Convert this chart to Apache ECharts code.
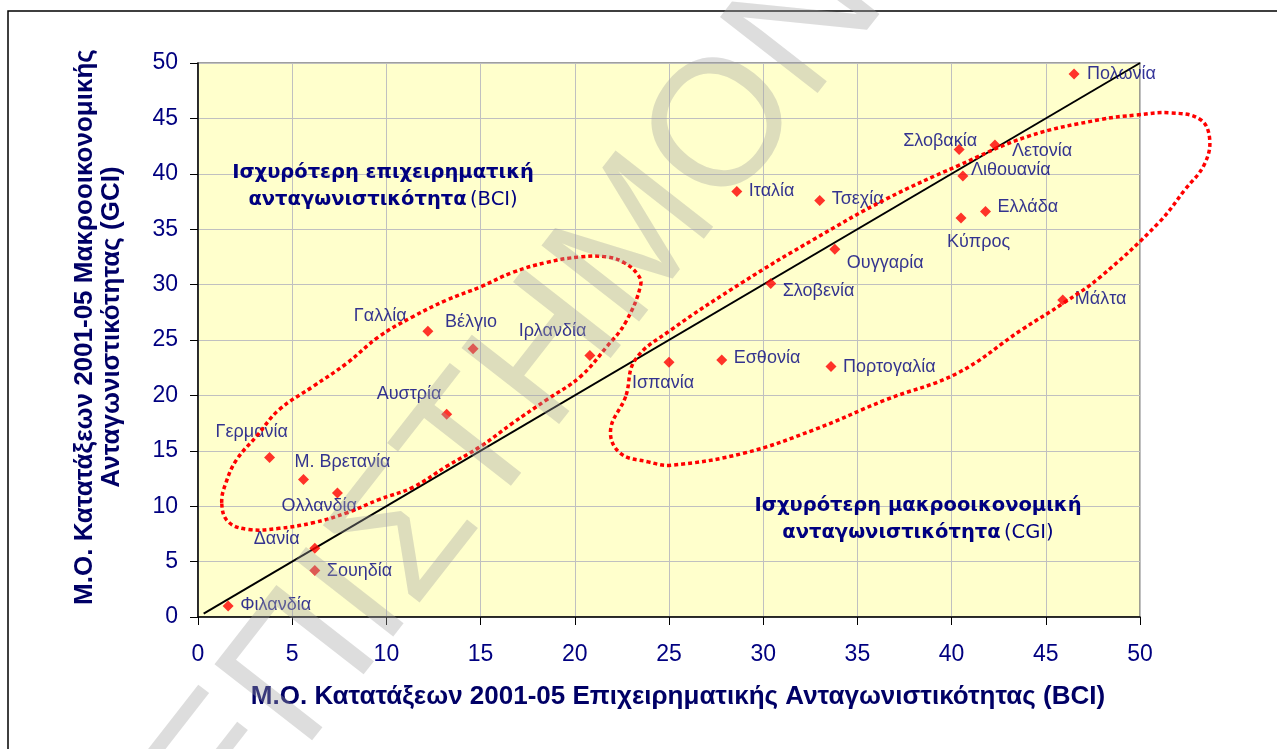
<!DOCTYPE html>
<html>
<head>
<meta charset="utf-8">
<script src="https://cdn.jsdelivr.net/npm/echarts@6/dist/echarts.min.js"></script>
<style>
  html, body { margin: 0; padding: 0; background: #fff; }
  #main { width: 1277px; height: 749px; }
</style>
</head>
<body>
<div id="main"></div>
<script>
// χώρες και μέσες κατατάξεις 2001-05
const countries = ['Πολωνία', 'Σλοβακία', 'Λετονία', 'Λιθουανία', 'Ιταλία', 'Τσεχία', 'Ελλάδα', 'Κύπρος',
  'Ουγγαρία', 'Σλοβενία', 'Μάλτα', 'Ισπανία', 'Εσθονία', 'Πορτογαλία', 'Ιρλανδία', 'Γαλλία', 'Βέλγιο',
  'Αυστρία', 'Γερμανία', 'Μ. Βρετανία', 'Ολλανδία', 'Δανία', 'Σουηδία', 'Φιλανδία']
const bciRank = [46.5, 40.4, 42.3, 40.6, 28.6, 33.0, 41.8, 40.5, 33.8, 30.4, 45.9, 25.0, 27.8, 33.6, 20.8,
  12.2, 14.6, 13.2, 3.8, 5.6, 7.4, 6.2, 6.2, 1.6]
const gciRank = [49.0, 42.2, 42.6, 39.8, 38.4, 37.6, 36.6, 36.0, 33.2, 30.1, 28.6, 23.0, 23.2, 22.6, 23.6,
  25.8, 24.2, 18.3, 14.4, 12.4, 11.2, 6.2, 4.2, 1.0]

// διαγώνιος BCI = GCI
const diagX = [0.3, 50]
const diagY = [0.3, 50]

// ticks
const axisTicks = [0, 5, 10, 15, 20, 25, 30, 35, 40, 45, 50]

// the two hand drawn loops (data units)
const bciLoop = [[1.26, 10.3], [1.5, 12.2], [2.05, 14.2], [3.1, 16.3], [4.3, 18.7], [6.1, 20.8], [7.9, 22.9],
  [9.6, 25.3], [11.4, 27.1], [13.2, 28.6], [15.0, 29.8], [16.7, 31.1], [18.5, 32.0], [20.3, 32.5],
  [21.7, 32.5], [22.6, 32.0], [23.3, 31.0], [23.5, 30.0], [22.7, 26.6], [21.7, 24.4], [20.3, 21.7],
  [18.5, 19.6], [16.7, 17.5], [15.0, 15.4], [13.2, 13.6], [11.4, 11.7], [9.6, 10.6], [7.9, 9.4],
  [6.1, 8.5], [4.3, 8.0], [2.7, 7.9], [1.6, 8.6]]
const gciLoop = [[22.7, 19.9], [21.9, 16.9], [22.4, 14.8], [23.9, 14.0], [25.1, 13.7], [29.0, 14.8],
  [32.7, 16.9], [36.5, 19.6], [40.3, 22.0], [43.7, 25.9], [46.0, 28.4], [47.9, 30.7], [51.0, 35.6],
  [52.4, 38.6], [53.4, 40.8], [53.7, 43.1], [53.2, 44.9], [51.6, 45.5], [49.8, 45.3], [47.9, 44.9],
  [44.1, 43.4], [40.3, 40.7], [36.5, 37.7], [32.7, 34.1], [28.9, 30.2], [25.1, 25.9], [23.2, 23.2]]

// label placement [dx, dy] from marker centre to text left/middle
const labelOffset = {
  'Πολωνία': [13, 0], 'Σλοβακία': [-56, -8], 'Λετονία': [17, 6], 'Λιθουανία': [8, -6],
  'Ιταλία': [12, 0], 'Τσεχία': [12, -1], 'Ελλάδα': [12, -4], 'Κύπρος': [-14, 24],
  'Ουγγαρία': [12, 14], 'Σλοβενία': [12, 8], 'Μάλτα': [12, -1], 'Ισπανία': [-37, 21],
  'Εσθονία': [12, -2], 'Πορτογαλία': [12, 0], 'Ιρλανδία': [-71, -24], 'Γαλλία': [-74, -15],
  'Βέλγιο': [-28, -27], 'Αυστρία': [-70, -20], 'Γερμανία': [-54, -25], 'Μ. Βρετανία': [-9, -18],
  'Ολλανδία': [-56, 13], 'Δανία': [-61, -9], 'Σουηδία': [12, 1], 'Φιλανδία': [12, -1]
}

const navy = '#000080'
const dom = echarts.init(document.getElementById('main'))

const points = countries.map((name, i) => ({
  name: name,
  value: [bciRank[i], gciRank[i]],
  label: { offset: labelOffset[name] }
}))

const axisCommon = {
  type: 'value',
  min: 0,
  max: 50,
  interval: 5,
  axisLine: { lineStyle: { color: '#000', width: 1.5 } },
  axisTick: { show: true, length: 8, lineStyle: { color: '#000' } },
  splitLine: { show: true, lineStyle: { color: '#c0c0c0', width: 1 } },
  axisLabel: {
    color: navy,
    fontSize: 23,
    fontFamily: 'Liberation Sans, Arial, sans-serif',
    formatter: v => (axisTicks.indexOf(v) >= 0 ? String(v) : '')
  }
}

dom.setOption({
  animation: false,
  backgroundColor: '#fff',
  grid: {
    left: 198, right: 137, top: 63, bottom: 132,
    show: true,
    backgroundColor: '#FFFFCC',
    borderColor: '#808080',
    borderWidth: 1.5
  },
  xAxis: Object.assign({}, axisCommon, {
    axisLabel: Object.assign({}, axisCommon.axisLabel, { margin: 26 })
  }),
  yAxis: Object.assign({}, axisCommon, {
    axisLabel: Object.assign({}, axisCommon.axisLabel, { margin: 20 })
  }),
  series: [
    {
      type: 'line',
      data: diagX.map((x, i) => [x, diagY[i]]),
      symbol: 'none',
      lineStyle: { color: '#000', width: 2 },
      z: 3
    },
    {
      type: 'scatter',
      data: points,
      symbol: 'diamond',
      symbolSize: 11,
      itemStyle: { color: '#ff0000' },
      label: {
        show: true,
        position: 'inside',
        align: 'left',
        verticalAlign: 'middle',
        formatter: '{b}',
        color: navy,
        fontSize: 18,
        fontFamily: 'Liberation Sans, Arial, sans-serif'
      },
      z: 5
    }
  ]
})

function loopPoints (loop) {
  return loop.map(p => dom.convertToPixel({ gridIndex: 0 }, p))
}

const boldTxt = '"DejaVu Sans", Verdana, sans-serif'
const noteRich = {
  b: { fontFamily: boldTxt, fontWeight: 'bold', fontSize: 19.5, fill: navy, lineHeight: 27 },
  r: { fontFamily: boldTxt, fontSize: 19.5, fill: navy, lineHeight: 27 }
}

dom.setOption({
  graphic: [
    {
      type: 'rect',
      shape: { x: 8, y: 11, width: 1300, height: 800 },
      style: { fill: 'none', stroke: '#000', lineWidth: 1.5 },
      silent: true
    },
    {
      type: 'polygon',
      shape: { points: loopPoints(bciLoop), smooth: 0.4 },
      style: { fill: 'none', stroke: '#ff0000', lineWidth: 3.5, lineDash: [4, 3] },
      z: 10
    },
    {
      type: 'polygon',
      shape: { points: loopPoints(gciLoop), smooth: 0.4 },
      style: { fill: 'none', stroke: '#ff0000', lineWidth: 3.5, lineDash: [4, 3] },
      z: 10
    },
    {
      type: 'text',
      x: 383, y: 186,
      style: {
        text: '{b|Ισχυρότερη επιχειρηματική}\n{b|ανταγωνιστικότητα} {r|(BCI)}',
        textAlign: 'center',
        textVerticalAlign: 'middle',
        fill: navy,
        rich: noteRich
      },
      z: 10
    },
    {
      type: 'text',
      x: 918, y: 519,
      style: {
        text: '{b|Ισχυρότερη μακροοικονομική}\n{b|ανταγωνιστικότητα} {r|(CGI)}',
        textAlign: 'center',
        textVerticalAlign: 'middle',
        fill: navy,
        rich: noteRich
      },
      z: 10
    },
    {
      type: 'text',
      x: 678, y: 697,
      style: {
        text: 'Μ.Ο. Κατατάξεων 2001-05 Επιχειρηματικής Ανταγωνιστικότητας (BCI)',
        textAlign: 'center',
        textVerticalAlign: 'middle',
        fill: '#000066',
        font: 'bold 26px "Liberation Sans", Arial, sans-serif'
      }
    },
    {
      type: 'text',
      x: 98, y: 327,
      rotation: Math.PI / 2,
      style: {
        text: 'Μ.Ο. Κατατάξεων 2001-05 Μακροοικονομικής\nΑνταγωνιστικότητας (GCI)',
        textAlign: 'center',
        textVerticalAlign: 'middle',
        fill: '#000066',
        lineHeight: 27,
        font: 'bold 26px "Liberation Sans", Arial, sans-serif'
      }
    },
    {
      // υδατογράφημα
      type: 'text',
      x: 190, y: 816,
      rotation: 52 * Math.PI / 180,
      style: {
        text: 'ΕΠΙΣΤΗΜΟΝΙΚΟ',
        textAlign: 'left',
        textVerticalAlign: 'middle',
        fill: 'rgba(160,160,160,0.36)',
        font: '180px "Liberation Sans", Arial, sans-serif'
      },
      silent: true,
      z: 100
    }
  ]
})
</script>
</body>
</html>
